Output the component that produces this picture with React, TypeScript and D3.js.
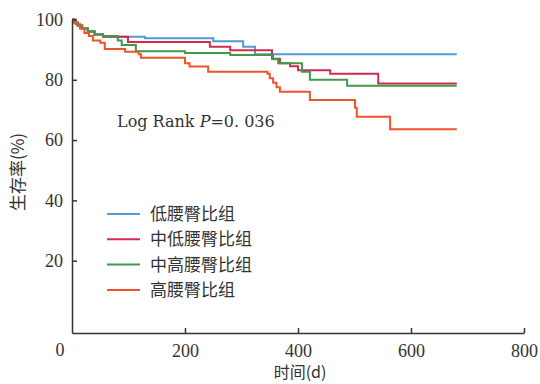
import * as d3 from "d3";
import React, { useRef, useEffect } from "react";

// Kaplan-Meier steps: [day, survival %] (survival holds from that day on)
const lowGroup: [number, number][] = [
  [0, 100], [4, 99], [10, 98], [18, 97], [28, 96], [40, 95], [55, 94.3],
  [129, 93.8], [250, 92.8], [303, 91], [324, 88.5],
];
const midLowGroup: [number, number][] = [
  [0, 100], [4, 99], [10, 98], [18, 97], [28, 96], [40, 95], [55, 94.3],
  [99, 92.5], [244, 91], [280, 89.8], [354, 87], [368, 85.5], [386, 84.5],
  [400, 83.2], [457, 82], [542, 78.8],
];
const midHighGroup: [number, number][] = [
  [0, 100], [4, 99], [10, 98], [18, 97], [28, 96], [40, 95], [55, 94.5],
  [81, 93], [88, 91.5], [113, 89.5], [200, 88.9], [280, 88.2], [356, 86.8],
  [365, 85.5], [407, 82.7], [421, 80], [487, 78],
];
const highGroup: [number, number][] = [
  [0, 100], [6, 98.5], [14, 97], [22, 95.5], [30, 94.5], [37, 93], [50, 92.3],
  [58, 90.2], [94, 89.3], [118, 88.5], [122, 87.3], [200, 85.5], [208, 84.4],
  [241, 82.7], [346, 82], [350, 80.5], [356, 79], [362, 77.5], [368, 76],
  [421, 73.3], [501, 70.7], [504, 67.7], [563, 63.6],
];
const lastDay = 681;

const groupNames = ["低腰臀比组", "中低腰臀比组", "中高腰臀比组", "高腰臀比组"];
const groupColors = ["#4d9bd8", "#d42a4e", "#3f9a4c", "#f0522c"];
const groupData = [lowGroup, midLowGroup, midHighGroup, highGroup];

const xTicks = [200, 400, 600, 800];
const yTicks = [20, 40, 60, 80, 100];

export default function App() {
  const width = 540;
  const height = 384;

  const xScale = d3.scaleLinear().domain([0, 800]).range([72, 524]);
  const yScale = d3.scaleLinear().domain([-4, 100]).range([333, 19.5]);

  const xAxisRef = useRef<SVGGElement>(null);
  const yAxisRef = useRef<SVGGElement>(null);

  const lineBuilder = d3
    .line<[number, number]>()
    .x((d) => xScale(d[0]))
    .y((d) => yScale(d[1]))
    .curve(d3.curveStepAfter);

  useEffect(() => {
    const xg = d3.select(xAxisRef.current);
    xg.selectAll("*").remove();
    xg.call(
      d3.axisBottom(xScale).tickValues(xTicks).tickSizeInner(-5).tickSizeOuter(0).tickPadding(11)
    );
    const yg = d3.select(yAxisRef.current);
    yg.selectAll("*").remove();
    yg.call(
      d3.axisLeft(yScale).tickValues(yTicks).tickSizeInner(-5).tickSizeOuter(0).tickPadding(9)
    );
    [xg, yg].forEach((g) => {
      g.selectAll("path, line").attr("stroke", "#333").attr("stroke-width", 1.5);
      g.selectAll("text")
        .attr("fill", "#333")
        .style("font-family", "'Liberation Serif', serif")
        .style("font-size", "18px");
    });
  }, []);

  return (
    <svg
      width={width}
      height={height}
      style={{ position: "absolute", left: 0, top: 0, background: "#fff" }}
    >
      {groupData.map((data, i) => (
        <path
          key={groupNames[i]}
          d={lineBuilder([...data, [lastDay, data[data.length - 1][1]]]) || undefined}
          fill="none"
          stroke={groupColors[i]}
          strokeWidth={2}
        />
      ))}
      <g ref={xAxisRef} transform={`translate(0, ${yScale(-4)})`} />
      <g ref={yAxisRef} transform={`translate(${xScale(0)}, 0)`} />
      <text
        x={60}
        y={356}
        textAnchor="middle"
        fill="#333"
        style={{ fontFamily: "'Liberation Serif', serif", fontSize: 18 }}
      >
        0
      </text>
      <text
        x={300}
        y={378}
        textAnchor="middle"
        fill="#333"
        style={{ fontFamily: "'Noto Sans CJK SC', sans-serif", fontSize: 16 }}
      >
        时间(d)
      </text>
      <text
        transform="translate(24, 172) rotate(-90)"
        textAnchor="middle"
        fill="#333"
        style={{ fontFamily: "'Noto Sans CJK SC', sans-serif", fontSize: 17 }}
      >
        生存率(%)
      </text>
      <text
        x={117}
        y={127}
        fill="#333"
        style={{ fontFamily: "'DejaVu Serif', serif", fontSize: 16 }}
      >
        Log Rank <tspan fontStyle="italic">P</tspan>=0. 036
      </text>
      {groupNames.map((name, i) => {
        const y = 214 + i * 25.3;
        return (
          <g key={name}>
            <line x1={107} x2={140} y1={y} y2={y} stroke={groupColors[i]} strokeWidth={2} />
            <text
              x={150}
              y={y + 6}
              fill="#333"
              style={{ fontFamily: "'Noto Sans CJK SC', sans-serif", fontSize: 17 }}
            >
              {name}
            </text>
          </g>
        );
      })}
    </svg>
  );
}
